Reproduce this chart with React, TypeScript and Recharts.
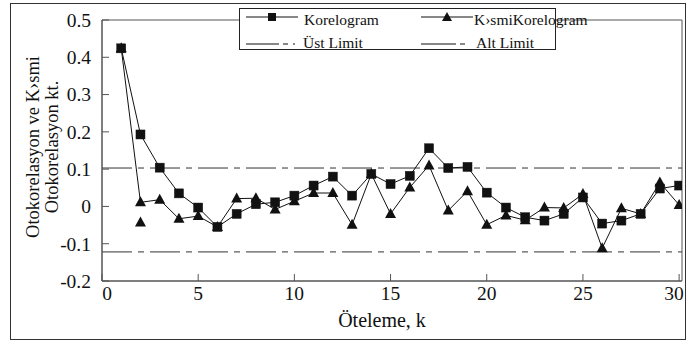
import React from 'react';
import { LineChart, Line, XAxis, YAxis, ReferenceLine, ReferenceArea, Legend } from 'recharts';

const lags = [1, 2, 3, 4, 5, 6, 7, 8, 9, 10, 11, 12, 13, 14, 15, 16, 17, 18, 19, 20, 21, 22, 23, 24, 25, 26, 27, 28, 29, 30];
const korelogram = [0.424, 0.193, 0.104, 0.035, -0.003, -0.055, -0.02, 0.006, 0.011, 0.029, 0.056, 0.08, 0.029, 0.087, 0.06, 0.082, 0.156, 0.103, 0.106, 0.037, -0.003, -0.029, -0.038, -0.02, 0.024, -0.046, -0.038, -0.02, 0.048, 0.056];
const kismiKorelogram = [0.424, 0.011, 0.018, -0.033, -0.026, -0.055, 0.021, 0.022, -0.008, 0.014, 0.036, 0.036, -0.049, 0.087, -0.02, 0.051, 0.11, -0.011, 0.041, -0.049, -0.024, -0.037, -0.003, -0.004, 0.033, -0.112, -0.005, -0.02, 0.064, 0.004];
const extraLags = [2];
const extraValues = [-0.043];
const ustLimit = 0.103;
const altLimit = -0.122;
const xTicks = [0, 5, 10, 15, 20, 25, 30];
const yTicks = [-0.2, -0.1, 0, 0.1, 0.2, 0.3, 0.4, 0.5];

const data = lags.map((lag, i) => {
  const j = extraLags.indexOf(lag);
  return {
    lag,
    kor: korelogram[i],
    kis: kismiKorelogram[i],
    extra: j >= 0 ? extraValues[j] : null,
  };
});

const FONT = '"Liberation Serif", "Times New Roman", serif';
const INK = '#111';
const AXIS = '#555';

const SquareDot = (props: any) => {
  const { cx, cy, index } = props;
  if (cx == null || cy == null) return <g key={`sq-${index}`} />;
  const s = 9;
  return <rect key={`sq-${index}`} x={cx - s / 2} y={cy - s / 2} width={s} height={s} fill={INK} stroke={INK} strokeWidth={0.5} />;
};

const TriDot = (props: any) => {
  const { cx, cy, index, dataKey } = props;
  if (cx == null || cy == null) return <g key={`tr-${dataKey}-${index}`} />;
  const w = 11;
  const h = 10;
  return (
    <path
      key={`tr-${dataKey}-${index}`}
      d={`M${cx},${cy - h * 0.6} L${cx + w / 2},${cy + h * 0.4} L${cx - w / 2},${cy + h * 0.4} Z`}
      fill={INK}
    />
  );
};

const XTick = (props: any) => {
  const { x, y, payload } = props;
  let dx = 0;
  if (payload.value === xTicks[0]) dx = 5;
  if (payload.value === xTicks[xTicks.length - 1]) dx = -5;
  return (
    <text x={x + dx} y={y} dy="0.71em" textAnchor="middle" fontFamily={FONT} fontSize={19.5} fill={INK}>
      {payload.value}
    </text>
  );
};

const XTitle = (props: any) => {
  const vb = props.viewBox;
  return (
    <text x={vb.x + vb.width / 2 - 10} y={vb.y + vb.height - 4} textAnchor="middle" fontFamily={FONT} fontSize={20} fill={INK}>
      Öteleme, k
    </text>
  );
};

const YTitle = () => {
  const cy = 147;
  return (
    <g>
      <text transform={`translate(39, ${cy}) rotate(-90)`} textAnchor="middle" fontFamily={FONT} fontSize={18.5} fill={INK}>
        Otokorelasyon ve K›smi
      </text>
      <text transform={`translate(58, ${cy}) rotate(-90)`} textAnchor="middle" fontFamily={FONT} fontSize={18.5} fill={INK}>
        Otokorelasyon kt.
      </text>
    </g>
  );
};

const LegendContent = () => {
  const fs = 15.5;
  return (
    <svg width={317} height={42} style={{ overflow: 'visible', display: 'block' }}>
      <line x1={6} y1={8} x2={58} y2={8} stroke={INK} strokeWidth={1} />
      <rect x={28} y={4} width={8} height={8} fill={INK} />
      <text x={64} y={16} fontFamily={FONT} fontSize={fs} fill={INK}>Korelogram</text>
      <line x1={181} y1={8} x2={233} y2={8} stroke={INK} strokeWidth={1} />
      <path d="M207,3 L212,12 L202,12 Z" fill={INK} />
      <text x={234} y={16} fontFamily={FONT} fontSize={fs} fill={INK}>K›smiKorelogram</text>
      <line x1={6} y1={35} x2={39} y2={35} stroke={INK} strokeWidth={1} />
      <line x1={43} y1={35} x2={48} y2={35} stroke={INK} strokeWidth={1} />
      <line x1={53} y1={35} x2={55} y2={35} stroke={INK} strokeWidth={1} />
      <text x={63} y={39} fontFamily={FONT} fontSize={fs} fill={INK}>Üst Limit</text>
      <line x1={181} y1={35} x2={216} y2={35} stroke={INK} strokeWidth={1} />
      <line x1={220} y1={35} x2={225} y2={35} stroke={INK} strokeWidth={1} />
      <text x={236} y={39} fontFamily={FONT} fontSize={fs} fill={INK}>Alt Limit</text>
    </svg>
  );
};

export default function App() {
  return (
    <div style={{ position: 'absolute', left: 0, top: 0, width: 688, height: 344, background: '#fff' }}>
      <LineChart width={688} height={344} data={data} margin={{ top: 20, right: 6, bottom: 13, left: 10 }}>
        <ReferenceArea x1={0} x2={30.15} y1={-0.2} y2={0.5} fill="none" stroke={AXIS} strokeWidth={1} />
        <XAxis
          type="number"
          dataKey="lag"
          domain={[0, 30.15]}
          ticks={xTicks}
          allowDataOverflow
          height={50}
          stroke={AXIS}
          tickSize={-7}
          tickMargin={12}
          tick={<XTick />}
          label={<XTitle />}
        />
        <YAxis
          type="number"
          domain={[-0.2, 0.5]}
          ticks={yTicks}
          allowDataOverflow
          width={92}
          stroke={AXIS}
          tickSize={-7}
          tickMargin={18}
          tick={{ fontFamily: FONT, fontSize: 19.5, fill: INK }}
          label={<YTitle />}
        />
        <ReferenceLine y={ustLimit} stroke="#333" strokeWidth={1} strokeDasharray="30 6 6 6" />
        <ReferenceLine y={altLimit} stroke="#333" strokeWidth={1} strokeDasharray="30 6 6 6" />
        <Line dataKey="kis" stroke={INK} strokeWidth={1} dot={TriDot} isAnimationActive={false} />
        <Line dataKey="kor" stroke={INK} strokeWidth={1} dot={SquareDot} isAnimationActive={false} />
        <Line dataKey="extra" stroke="none" dot={TriDot} isAnimationActive={false} />
        <Legend
          layout="horizontal"
          verticalAlign="middle"
          align="center"
          content={<LegendContent />}
          wrapperStyle={{
            position: 'absolute',
            left: 239,
            top: 8,
            width: 317,
            height: 42,
            border: '1px solid #222',
            background: '#fff',
            boxSizing: 'border-box',
            overflow: 'visible',
          }}
        />
      </LineChart>
      <div
        style={{
          position: 'absolute',
          left: 10,
          top: 3,
          width: 676,
          height: 337,
          border: '1px solid #333',
          boxSizing: 'border-box',
          pointerEvents: 'none',
        }}
      />
    </div>
  );
}
